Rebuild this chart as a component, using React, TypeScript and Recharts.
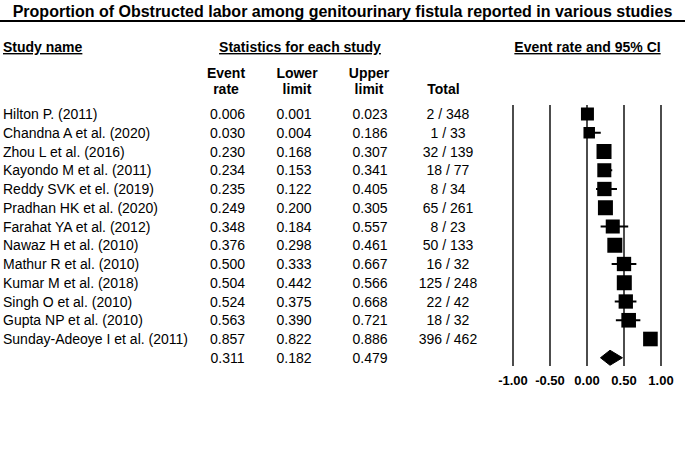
import React from 'react';
import {
  ScatterChart,
  Scatter,
  XAxis,
  YAxis,
  CartesianGrid,
  ReferenceLine,
} from 'recharts';

// forest plot data
const studyNames = [
  'Hilton P. (2011)',
  'Chandna A et al. (2020)',
  'Zhou L et al. (2016)',
  'Kayondo M et al. (2011)',
  'Reddy SVK et el. (2019)',
  'Pradhan HK et al. (2020)',
  'Farahat YA et al. (2012)',
  'Nawaz H et al. (2010)',
  'Mathur R et al. (2010)',
  'Kumar M et al. (2018)',
  'Singh O et al. (2010)',
  'Gupta NP et al. (2010)',
  'Sunday-Adeoye I et al. (2011)',
];
const eventRate = [0.006, 0.03, 0.23, 0.234, 0.235, 0.249, 0.348, 0.376, 0.5, 0.504, 0.524, 0.563, 0.857];
const lowerLimit = [0.001, 0.004, 0.168, 0.153, 0.122, 0.2, 0.184, 0.298, 0.333, 0.442, 0.375, 0.39, 0.822];
const upperLimit = [0.023, 0.186, 0.307, 0.341, 0.405, 0.305, 0.557, 0.461, 0.667, 0.566, 0.668, 0.721, 0.886];
const totals = ['2 / 348', '1 / 33', '32 / 139', '18 / 77', '8 / 34', '65 / 261', '8 / 23', '50 / 133', '16 / 32', '125 / 248', '22 / 42', '18 / 32', '396 / 462'];
// relative weights (estimated from square sizes)
const weights = [6.0, 4.7, 8.0, 7.0, 7.3, 8.0, 7.0, 8.0, 7.3, 8.0, 7.3, 7.6, 7.6];

const summaryRate = 0.311;
const summaryLower = 0.182;
const summaryUpper = 0.479;

const xTicks = [-1, -0.5, 0, 0.5, 1];

const FONT = '"Liberation Sans", Arial, sans-serif';
const summaryRow = studyNames.length;
const rowTicks = Array.from({ length: summaryRow + 1 }, (_, i) => i);

const studyData = studyNames.map((name, i) => ({
  name,
  row: i,
  x: eventRate[i],
  lower: lowerLimit[i],
  upper: upperLimit[i],
  weight: weights[i],
}));

// diamond outline for the pooled estimate
const diamondData = [
  { x: summaryLower, row: summaryRow },
  { x: summaryRate, row: summaryRow - 0.4 },
  { x: summaryUpper, row: summaryRow },
  { x: summaryRate, row: summaryRow + 0.4 },
  { x: summaryLower, row: summaryRow },
];

const fmt = (v: number) => v.toFixed(3);

const RowTick = (props: any) => {
  const { y, payload } = props;
  const i = payload.value;
  const isSummary = i === summaryRow;
  const rate = isSummary ? summaryRate : eventRate[i];
  const lo = isSummary ? summaryLower : lowerLimit[i];
  const up = isSummary ? summaryUpper : upperLimit[i];
  const style = { fontFamily: FONT, fontSize: 14, fill: '#000' };
  return (
    <g>
      {!isSummary && (
        <text x={3} y={y} dy="0.36em" textAnchor="start" style={style}>
          {studyNames[i]}
        </text>
      )}
      <text x={227.5} y={y} dy="0.36em" textAnchor="middle" style={style}>{fmt(rate)}</text>
      <text x={294} y={y} dy="0.36em" textAnchor="middle" style={style}>{fmt(lo)}</text>
      <text x={370} y={y} dy="0.36em" textAnchor="middle" style={style}>{fmt(up)}</text>
      {!isSummary && (
        <text x={448} y={y} dy="0.36em" textAnchor="middle" style={style}>{totals[i]}</text>
      )}
    </g>
  );
};

const SquareShape = (props: any) => {
  const { cx, cy, payload } = props;
  const s = 5.3 * Math.sqrt(payload.weight);
  return <rect x={cx - s / 2} y={cy - s / 2} width={s} height={s} fill="#000" />;
};

export default function App() {
  const hdr = { fontFamily: FONT, fontSize: 14, fontWeight: 'bold' as const, fill: '#000' };
  const under = { ...hdr, textDecoration: 'underline' };
  return (
    <div style={{ position: 'absolute', left: 0, top: 0, width: 685, height: 467, background: '#fff' }}>
      <ScatterChart width={685} height={467} margin={{ top: 105, right: 24, bottom: 71, left: 0 }}>
        <CartesianGrid horizontal={false} stroke="#000" strokeWidth={1.4} />
        <XAxis
          type="number"
          dataKey="x"
          domain={[-1, 1]}
          ticks={xTicks}
          tickFormatter={(v: number) => v.toFixed(2)}
          axisLine={false}
          tickLine={false}
          tickMargin={4}
          height={30}
          tick={{ fontFamily: FONT, fontSize: 13, fontWeight: 'bold', fill: '#000' }}
        />
        <YAxis
          type="number"
          dataKey="row"
          domain={[-0.48, 13.44]}
          reversed
          ticks={rowTicks}
          interval={0}
          width={513}
          axisLine={false}
          tickLine={false}
          tick={<RowTick />}
        />
        {studyData.map((d) => (
          <ReferenceLine
            key={d.name}
            segment={[{ x: d.lower, y: d.row }, { x: d.upper, y: d.row }]}
            stroke="#000"
            strokeWidth={2}
          />
        ))}
        <Scatter data={studyData} shape={<SquareShape />} isAnimationActive={false} />
        <Scatter
          data={diamondData}
          line={{ fill: '#000', stroke: '#000', strokeWidth: 1 }}
          lineType="joint"
          shape={() => <g />}
          fill="#000"
          isAnimationActive={false}
        />
      </ScatterChart>
      <svg width={685} height={467} style={{ position: 'absolute', left: 0, top: 0, pointerEvents: 'none' }}>
        <text x={342.5} y={16.5} textAnchor="middle" style={{ ...hdr, fontSize: 16 }}>
          Proportion of Obstructed labor among genitourinary fistula reported in various studies
        </text>
        <line x1={0} x2={685} y1={21} y2={21} stroke="#000" strokeWidth={2} />
        <text x={3} y={52} style={under}>Study name</text>
        <text x={300} y={52} textAnchor="middle" style={under}>Statistics for each study</text>
        <text x={587.5} y={52} textAnchor="middle" style={under}>Event rate and 95% CI</text>
        <text x={226} y={78} textAnchor="middle" style={hdr}>Event</text>
        <text x={226} y={94} textAnchor="middle" style={hdr}>rate</text>
        <text x={297} y={78} textAnchor="middle" style={hdr}>Lower</text>
        <text x={297} y={94} textAnchor="middle" style={hdr}>limit</text>
        <text x={369} y={78} textAnchor="middle" style={hdr}>Upper</text>
        <text x={369} y={94} textAnchor="middle" style={hdr}>limit</text>
        <text x={443.5} y={94} textAnchor="middle" style={hdr}>Total</text>
      </svg>
    </div>
  );
}
